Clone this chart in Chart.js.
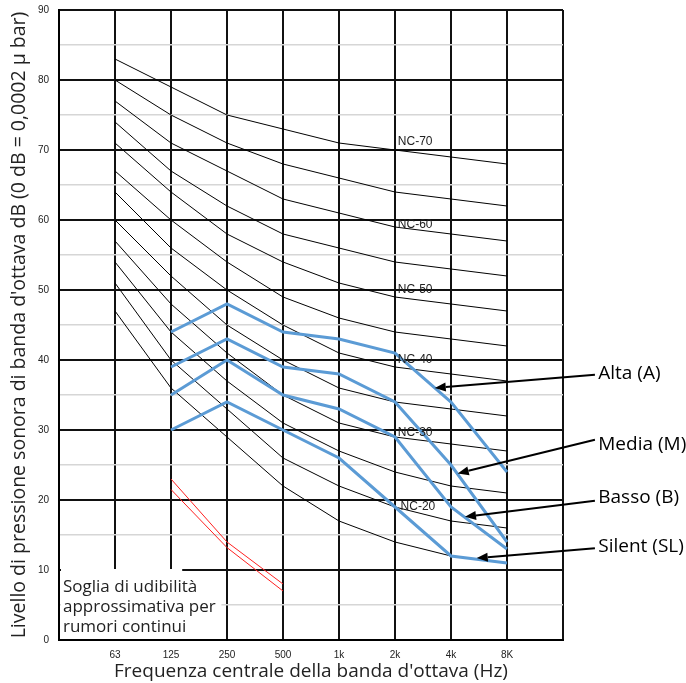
<!DOCTYPE html>
<html>
<head>
<meta charset="utf-8">
<script src="https://cdn.jsdelivr.net/npm/chart.js@4/dist/chart.umd.min.js"></script>
<style>
  body { margin: 0; background: #fff; }
</style>
</head>
<body>
<canvas id="nc_chart" width="686" height="683"></canvas>
<script>
// octave band labels (first and last slot are empty)
const xLabels = ['', '63', '125', '250', '500', '1k', '2k', '4k', '8K', ''];

// NC curves, 63 Hz .. 8 kHz
const nc15 = [47, 36, 29, 22, 17, 14, 12, 11];
const nc20 = [51, 40, 33, 26, 22, 19, 17, 16];
const nc25 = [54, 44, 37, 31, 27, 24, 22, 21];
const nc30 = [57, 48, 41, 35, 31, 29, 28, 27];
const nc35 = [60, 52, 45, 40, 36, 34, 33, 32];
const nc40 = [64, 56, 50, 45, 41, 39, 38, 37];
const nc45 = [67, 60, 54, 49, 46, 44, 43, 42];
const nc50 = [71, 64, 58, 54, 51, 49, 48, 47];
const nc55 = [74, 67, 62, 58, 56, 54, 53, 52];
const nc60 = [77, 71, 67, 63, 61, 59, 58, 57];
const nc65 = [80, 75, 71, 68, 66, 64, 63, 62];
const nc70 = [83, 79, 75, 73, 71, 70, 69, 68];
const ncCurves = [nc15, nc20, nc25, nc30, nc35, nc40, nc45, nc50, nc55, nc60, nc65, nc70];

// fan speeds, 125 Hz .. 8 kHz
const alta = [44, 48, 44, 43, 41, 34, 24];
const media = [39, 43, 39, 38, 34, 25, 14];
const basso = [35, 40, 35, 33, 29, 19, 13];
const silent = [30, 34, 30, 26, 19, 12, 11];

// hearing threshold, 125 .. 500 Hz
const sogliaHigh = [23, 14, 8];
const sogliaLow = [21.5, 13.2, 7];

// curve names written on the grid
const ncNames = ['NC-70', 'NC-60', 'NC-50', 'NC-40', 'NC-30', 'NC-20'];
const ncNameX = [6.05, 6.05, 6.05, 6.05, 6.05, 6.1];
const ncNameY = [71.2, 59.4, 50, 40, 29.6, 19];

// callouts: name, where the arrow points, where it starts
const speedNames = ['Alta (A)', 'Media (M)', 'Basso (B)', 'Silent (SL)'];
const arrowTip = [[6.71, 36], [7.12, 23.8], [7.25, 17.6], [7.46, 11.7]];
const arrowTail = [[9.57, 37.9], [9.57, 28.6], [9.57, 19.9], [9.57, 13.1]];
const speedNameY = [38.1, 27.9, 20.4, 13.3];

const sogliaText = ['Soglia di udibilità', 'approssimativa per', 'rumori continui'];

function toPoints(values, firstIdx) {
    return values.map((v, i) => ({ x: firstIdx + i, y: v }));
}

let datasets = [];
for (let s of [alta, media, basso, silent]) {
    datasets.push({
        data: toPoints(s, 2),
        borderColor: '#5b9bd5',
        borderWidth: 3,
        pointRadius: 0
    });
}
for (let s of [sogliaHigh, sogliaLow]) {
    datasets.push({
        data: toPoints(s, 2),
        borderColor: '#ff2020',
        borderWidth: 1,
        pointRadius: 0
    });
}
for (let s of ncCurves) {
    datasets.push({
        data: toPoints(s, 1),
        borderColor: '#000',
        borderWidth: 1,
        pointRadius: 0
    });
}

function arrow(ctx, x1, y1, x2, y2) {
    const ang = Math.atan2(y2 - y1, x2 - x1);
    const len = 11, half = 4.5;
    const bx = x2 - len * Math.cos(ang), by = y2 - len * Math.sin(ang);
    ctx.beginPath();
    ctx.moveTo(x1, y1);
    ctx.lineTo(bx, by);
    ctx.stroke();
    ctx.beginPath();
    ctx.moveTo(x2, y2);
    ctx.lineTo(bx + half * Math.sin(ang), by - half * Math.cos(ang));
    ctx.lineTo(bx - half * Math.sin(ang), by + half * Math.cos(ang));
    ctx.closePath();
    ctx.fill();
}

const notesPlugin = {
    id: 'notes',
    afterDatasetsDraw(chart) {
        const ctx = chart.ctx;
        const xs = chart.scales.x, ys = chart.scales.y;
        ctx.save();

        // NC labels
        ctx.font = '12px "Liberation Sans"';
        ctx.fillStyle = '#222';
        ctx.textAlign = 'left';
        ctx.textBaseline = 'middle';
        for (let i = 0; i < ncNames.length; i++) {
            ctx.fillText(ncNames[i], xs.getPixelForValue(ncNameX[i]), ys.getPixelForValue(ncNameY[i]));
        }

        // arrows + speed names
        ctx.strokeStyle = '#000';
        ctx.fillStyle = '#000';
        ctx.lineWidth = 2;
        ctx.font = '19px "Open Sans"';
        for (let i = 0; i < speedNames.length; i++) {
            arrow(ctx,
                xs.getPixelForValue(arrowTail[i][0]), ys.getPixelForValue(arrowTail[i][1]),
                xs.getPixelForValue(arrowTip[i][0]), ys.getPixelForValue(arrowTip[i][1]));
            ctx.fillText(speedNames[i], xs.getPixelForValue(9.63), ys.getPixelForValue(speedNameY[i]));
        }

        // threshold note box
        ctx.fillStyle = '#fff';
        const left = xs.getPixelForValue(0) + 2;
        const bottom = ys.getPixelForValue(0) - 1;
        ctx.fillRect(left, ys.getPixelForValue(10) - 1, xs.getPixelForValue(2.2) - left, bottom - ys.getPixelForValue(10) + 1);
        ctx.fillRect(left, ys.getPixelForValue(6.3), xs.getPixelForValue(2.9) - left, bottom - ys.getPixelForValue(6.3));
        ctx.fillStyle = '#222';
        ctx.font = '17px "Open Sans"';
        const y0 = ys.getPixelForValue(10) + 17;
        for (let i = 0; i < sogliaText.length; i++) {
            ctx.fillText(sogliaText[i], left + 2, y0 + i * 20);
        }
        ctx.restore();
    }
};

new Chart(document.getElementById('nc_chart').getContext('2d'), {
    type: 'line',
    data: { datasets: datasets },
    options: {
        responsive: false,
        animation: false,
        layout: { padding: { top: 10, right: 123, left: 0, bottom: 0 } },
        plugins: {
            legend: { display: false },
            tooltip: { enabled: false }
        },
        elements: { line: { tension: 0 } },
        scales: {
            x: {
                type: 'linear',
                min: 0,
                max: 9,
                afterFit: (scale) => { scale.height = 43; },
                grid: { color: '#111', lineWidth: 2, drawTicks: false },
                border: { color: '#000', width: 2 },
                ticks: {
                    stepSize: 1,
                    padding: 9,
                    color: '#222',
                    font: { family: 'Liberation Sans', size: 10 },
                    maxRotation: 0,
                    callback: (v) => xLabels[v]
                },
                title: {
                    display: true,
                    text: "Frequenza centrale della banda d'ottava (Hz)",
                    color: '#222',
                    font: { family: 'Open Sans', size: 19 },
                    padding: { top: 0, bottom: 0 }
                }
            },
            y: {
                min: 0,
                max: 90,
                afterFit: (scale) => {
                    scale.width = 59;
                    scale.paddingTop = 0;
                },
                grid: {
                    drawTicks: false,
                    color: (c) => c.tick.value % 10 === 0 ? '#111' : '#d6d6d6',
                    lineWidth: (c) => c.tick.value % 10 === 0 ? 2 : 1.5
                },
                border: { color: '#000', width: 2 },
                ticks: {
                    stepSize: 5,
                    padding: 10,
                    color: '#222',
                    font: { family: 'Liberation Sans', size: 10 },
                    callback: (v) => v % 10 === 0 ? v : ''
                },
                title: {
                    display: true,
                    text: "Livello di pressione sonora di banda d'ottava dB (0 dB = 0,0002 μ bar)",
                    color: '#222',
                    font: { family: 'Open Sans', size: 19.5 },
                    padding: { top: 8, bottom: 0 }
                }
            }
        }
    },
    plugins: [notesPlugin]
});
</script>
</body>
</html>
